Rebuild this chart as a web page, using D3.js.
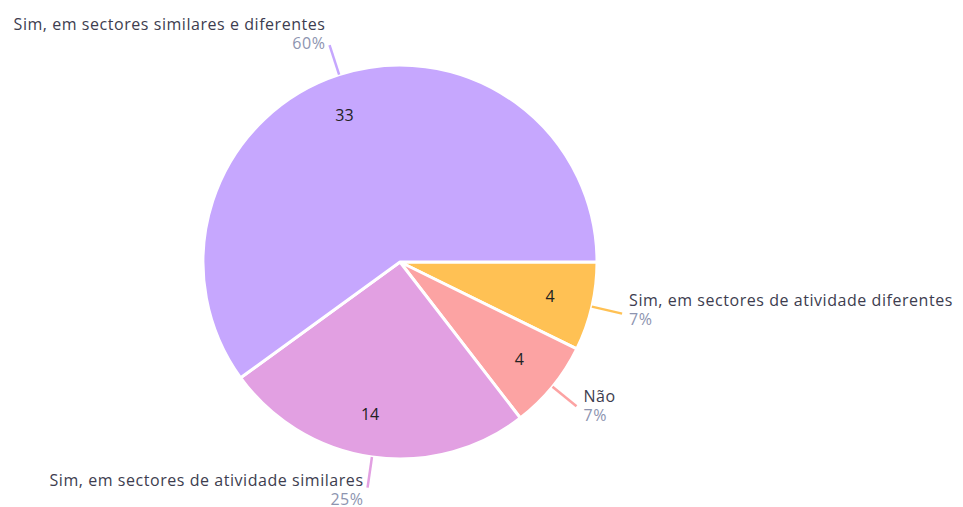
<!DOCTYPE html>
<html><head><meta charset="utf-8">
<script src="https://cdn.jsdelivr.net/npm/d3@7"></script>
<style>body{margin:0;background:#fff;} text{font-family:"Open Sans",sans-serif;}</style>
</head><body>
<svg id="chart" width="963" height="507"></svg>
<script>
const categories = ["Sim, em sectores de atividade diferentes", "Não", "Sim, em sectores de atividade similares", "Sim, em sectores similares e diferentes"];
const values = [4, 4, 14, 33];
const percentLabels = ["7%", "7%", "25%", "60%"];
const colors = ["#ffc154", "#fca3a3", "#e2a0e2", "#c6a7fe"];

const svg = d3.select("#chart");
const cx = 400, cy = 262, R = 197;
const g = svg.append("g").attr("transform", `translate(${cx},${cy})`);

const pie = d3.pie().sort(null).value(d => d).startAngle(Math.PI/2).endAngle(Math.PI/2 + 2*Math.PI);
const arcs = pie(values);
const arc = d3.arc().innerRadius(0).outerRadius(R);

g.selectAll("path.slice").data(arcs).join("path")
  .attr("class","slice")
  .attr("d", arc)
  .attr("fill", (d,i) => colors[i])
  .attr("stroke", "#fff").attr("stroke-width", 3).attr("stroke-linejoin","round");

const inner = d3.arc().innerRadius(154).outerRadius(154);
g.selectAll("text.val").data(arcs).join("text")
  .attr("class","val")
  .attr("transform", d => {
    const [x, y] = inner.centroid(d);
    const shift = String(d.data).length > 1 ? -8 : 0;
    return `translate(${x + shift},${y})`;
  })
  .attr("text-anchor","middle").attr("dy","0.35em")
  .attr("font-size", 16).attr("fill", "#222")
  .text(d => d.data);

const p1 = d3.arc().innerRadius(R).outerRadius(R);
const p2 = d3.arc().innerRadius(228).outerRadius(228);
g.selectAll("line.lead").data(arcs).join("line")
  .attr("class","lead")
  .attr("x1", d => p1.centroid(d)[0]).attr("y1", d => p1.centroid(d)[1])
  .attr("x2", d => p2.centroid(d)[0]).attr("y2", d => p2.centroid(d)[1])
  .attr("stroke", (d,i) => colors[i]).attr("stroke-width", 2.5);

arcs.forEach((d,i) => {
  const [ex, ey] = p2.centroid(d);
  const mid = (d.startAngle + d.endAngle)/2;
  const ydir = -Math.cos(mid);
  const right = ex > 0;
  const x = right ? ex + 7 : ex - 4;
  const yName = ey - 9 + 7*ydir;
  const anchor = right ? "start" : "end";
  g.append("text").attr("x", x).attr("y", yName).attr("text-anchor", anchor)
    .attr("font-size", 16).attr("letter-spacing", 0.55).attr("fill", "#3d3d4f").text(categories[i]);
  g.append("text").attr("x", x).attr("y", yName + 19).attr("text-anchor", anchor)
    .attr("font-size", 16).attr("letter-spacing", 0.55).attr("fill", "#8d94b0").text(percentLabels[i]);
});
</script>
</body></html>
